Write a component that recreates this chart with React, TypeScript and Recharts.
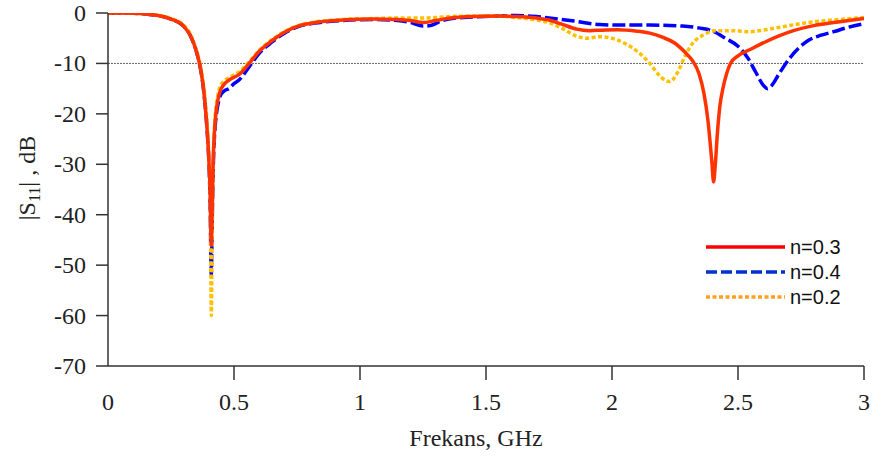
import { LineChart, Line, XAxis, YAxis, ReferenceLine } from "recharts";

// n=0.3 (solid red)
const redFreq = [
  0, 0.05, 0.1, 0.15, 0.2, 0.25, 0.3, 0.33, 0.35, 0.363,
  0.375, 0.385, 0.393, 0.4, 0.405, 0.41, 0.413, 0.417, 0.422, 0.428,
  0.435, 0.445, 0.46, 0.48, 0.52, 0.56, 0.6, 0.65, 0.7, 0.76,
  0.82, 0.9, 0.96, 1.05, 1.15, 1.2, 1.25, 1.3, 1.36, 1.45,
  1.55, 1.62, 1.7, 1.75, 1.8, 1.86, 1.91, 1.96, 2.02, 2.1,
  2.15, 2.2, 2.25, 2.29, 2.32, 2.345, 2.365, 2.38, 2.39, 2.397,
  2.403, 2.41, 2.418, 2.428, 2.44, 2.455, 2.47, 2.5, 2.55, 2.61,
  2.66, 2.72, 2.8, 2.88, 2.94, 3.0,
];
const redDb = [
  0, 0, -0.05, -0.2, -0.5, -1.2, -2.6, -4.8, -7.5, -10,
  -13.5, -18, -23, -29, -35, -46, -40, -30, -24, -20,
  -17.5, -15.5, -14.2, -13.3, -12.2, -10, -7.6, -5.5, -3.8, -2.5,
  -1.9, -1.5, -1.3, -1.2, -1.3, -1.5, -1.9, -1.5, -1.0, -0.7,
  -0.6, -0.7, -1.0, -1.4, -2.2, -3.2, -3.5, -3.4, -3.3, -3.6,
  -4.0, -4.8, -6, -7.8, -9.5, -12, -16, -21, -26, -30,
  -33.5, -30, -24, -18.5, -15, -12, -10, -8.5, -7.2, -5.7,
  -4.6, -3.5, -2.5, -1.9, -1.5, -1.1,
];

// n=0.4 (dashed blue)
const blueFreq = [
  0, 0.05, 0.1, 0.15, 0.2, 0.25, 0.3, 0.33, 0.35, 0.363,
  0.375, 0.385, 0.393, 0.4, 0.405, 0.41, 0.413, 0.417, 0.422, 0.428,
  0.435, 0.445, 0.46, 0.48, 0.5, 0.52, 0.56, 0.6, 0.65, 0.7,
  0.76, 0.82, 0.9, 0.96, 1.05, 1.15, 1.2, 1.25, 1.28, 1.32,
  1.38, 1.45, 1.55, 1.62, 1.7, 1.75, 1.85, 1.95, 2.05, 2.15,
  2.28, 2.35, 2.39, 2.45, 2.5, 2.54, 2.57, 2.6, 2.617, 2.635,
  2.66, 2.7, 2.74, 2.78, 2.83, 2.88, 2.94, 3.0,
];
const blueDb = [
  0, 0, -0.05, -0.2, -0.5, -1.2, -2.6, -4.8, -7.5, -10,
  -13.5, -18, -23, -29, -37, -52, -43, -32, -25, -21,
  -18.5, -16.5, -15.5, -15, -14, -13.3, -10.7, -8, -5.8, -4,
  -2.6, -2.0, -1.6, -1.4, -1.3, -1.5, -1.9, -2.6, -2.5, -1.6,
  -1.0, -0.8, -0.6, -0.5, -0.7, -1.0, -1.6, -2.3, -2.4, -2.4,
  -2.6, -3.0, -3.4, -5, -6.6, -9, -11.7, -14.3, -15, -14.3,
  -12.3, -9.3, -7, -5.4, -4.4, -3.7, -2.8, -2.1,
];

// n=0.2 (dotted yellow)
const yellowFreq = [
  0, 0.05, 0.1, 0.15, 0.2, 0.25, 0.3, 0.33, 0.35, 0.365,
  0.377, 0.387, 0.395, 0.401, 0.406, 0.41, 0.413, 0.417, 0.422, 0.428,
  0.435, 0.445, 0.46, 0.48, 0.52, 0.56, 0.6, 0.65, 0.7, 0.76,
  0.82, 0.9, 0.96, 1.05, 1.15, 1.2, 1.25, 1.3, 1.36, 1.45,
  1.55, 1.62, 1.7, 1.75, 1.8, 1.86, 1.9, 1.95, 2.0, 2.05,
  2.1, 2.15, 2.19, 2.228, 2.26, 2.29, 2.32, 2.36, 2.41, 2.48,
  2.545, 2.6, 2.68, 2.75, 2.81, 2.9, 3.0,
];
const yellowDb = [
  0, 0, -0.05, -0.2, -0.45, -1.1, -2.4, -4.5, -7.2, -10,
  -13.5, -18, -23, -29, -38, -60, -46, -31, -23, -19,
  -16.5, -14.5, -13.5, -12.8, -11.7, -9.7, -7.4, -5.3, -3.7, -2.4,
  -1.8, -1.4, -1.2, -1.1, -1.0, -1.0, -1.0, -0.9, -0.7, -0.6,
  -0.6, -0.9, -1.4, -1.9, -3.0, -4.6, -5.0, -4.7, -5.0, -6.0,
  -7.6, -10, -12.5, -13.6, -11.8, -8.5, -6.0, -4.4, -3.5, -3.5,
  -3.7, -3.4, -2.7, -2.1, -1.7, -1.3, -0.9,
];

const xTicks = [0, 0.5, 1, 1.5, 2, 2.5, 3];
const yTicks = [0, -10, -20, -30, -40, -50, -60, -70];

const legendItems = [
  { label: "n=0.3", color: "#ff0000", dash: undefined },
  { label: "n=0.4", color: "#0033cc", dash: "11 4" },
  { label: "n=0.2", color: "#ffa020", dash: "4 2.5" },
];

const toPoints = (fs: number[], ds: number[]) => fs.map((f, i) => ({ f, db: ds[i] }));

const serif = "'Liberation Serif', 'Times New Roman', serif";
const sans = "'Liberation Sans', Arial, sans-serif";
const axisColor = "#333";

function XTick({ x, y, payload }: any) {
  return (
    <g>
      {payload.value !== 0 && <line x1={x} y1={y} x2={x} y2={y + 14} stroke={axisColor} strokeWidth={1.5} />}
      <text x={x} y={y + 44} textAnchor="middle" fontFamily={serif} fontSize={24} fill="#222">
        {payload.value}
      </text>
    </g>
  );
}

function YTick({ x, y, payload }: any) {
  return (
    <g>
      <line x1={x - 12} y1={y} x2={x} y2={y} stroke={axisColor} strokeWidth={1.5} />
      <text x={x - 22} y={y + 8} textAnchor="end" fontFamily={serif} fontSize={24} fill="#222">
        {payload.value}
      </text>
    </g>
  );
}

function YLabel() {
  const cx = 35;
  const cy = 178;
  return (
    <text x={cx} y={cy} transform={`rotate(-90, ${cx}, ${cy})`} textAnchor="middle" fontFamily={serif} fontSize={24} fill="#222">
      |S<tspan fontSize={16} dy={5}>11</tspan>
      <tspan dy={-5}>| , dB</tspan>
    </text>
  );
}

function XLabel() {
  return (
    <text x={476} y={446} textAnchor="middle" fontFamily={serif} fontSize={24} fill="#222">
      Frekans, GHz
    </text>
  );
}

function LegendBox() {
  return (
    <svg width={160} height={80} style={{ position: "absolute", left: 700, top: 234 }}>
      {legendItems.map((it, i) => (
        <g key={it.label}>
          <line x1={6} y1={13 + i * 25} x2={85} y2={13 + i * 25} stroke={it.color} strokeWidth={3.5} strokeDasharray={it.dash} />
          <text x={90} y={20 + i * 25} fontFamily={sans} fontSize={20} fill="#111">
            {it.label}
          </text>
        </g>
      ))}
    </svg>
  );
}

export default function App() {
  return (
    <div style={{ position: "absolute", left: 0, top: 0, width: 873, height: 459, background: "#fff" }}>
      <LineChart width={873} height={459} margin={{ top: 13, right: 9, bottom: 0, left: 0 }}>
        <XAxis
          type="number"
          dataKey="f"
          domain={[0, 3]}
          ticks={xTicks}
          height={93}
          tickSize={0}
          tickMargin={0}
          tickLine={false}
          tick={<XTick />}
          stroke={axisColor}
          strokeWidth={1.5}
          allowDataOverflow
          label={<XLabel />}
        />
        <YAxis
          type="number"
          domain={[-70, 0]}
          ticks={yTicks}
          width={108}
          tickSize={0}
          tickMargin={0}
          tickLine={false}
          tick={<YTick />}
          stroke={axisColor}
          strokeWidth={1.5}
          allowDataOverflow
          label={<YLabel />}
        />
        <ReferenceLine y={-10} stroke="#666" strokeWidth={1} strokeDasharray="2 1" segment={[{ x: 0, y: -10 }, { x: 2.97, y: -10 }]} />
        <Line data={toPoints(blueFreq, blueDb)} dataKey="db" name="n=0.4" type="monotone" stroke="#0000ff" strokeWidth={3.5} strokeDasharray="13 4" dot={false} activeDot={false} isAnimationActive={false} />
        <Line data={toPoints(yellowFreq, yellowDb)} dataKey="db" name="n=0.2" type="monotone" stroke="#ffc000" strokeWidth={3.5} strokeDasharray="4 2.5" dot={false} activeDot={false} isAnimationActive={false} />
        <Line data={toPoints(redFreq, redDb)} dataKey="db" name="n=0.3" type="monotone" stroke="#ff3300" strokeWidth={3.5} dot={false} activeDot={false} isAnimationActive={false} />
      </LineChart>
      <LegendBox />
    </div>
  );
}
